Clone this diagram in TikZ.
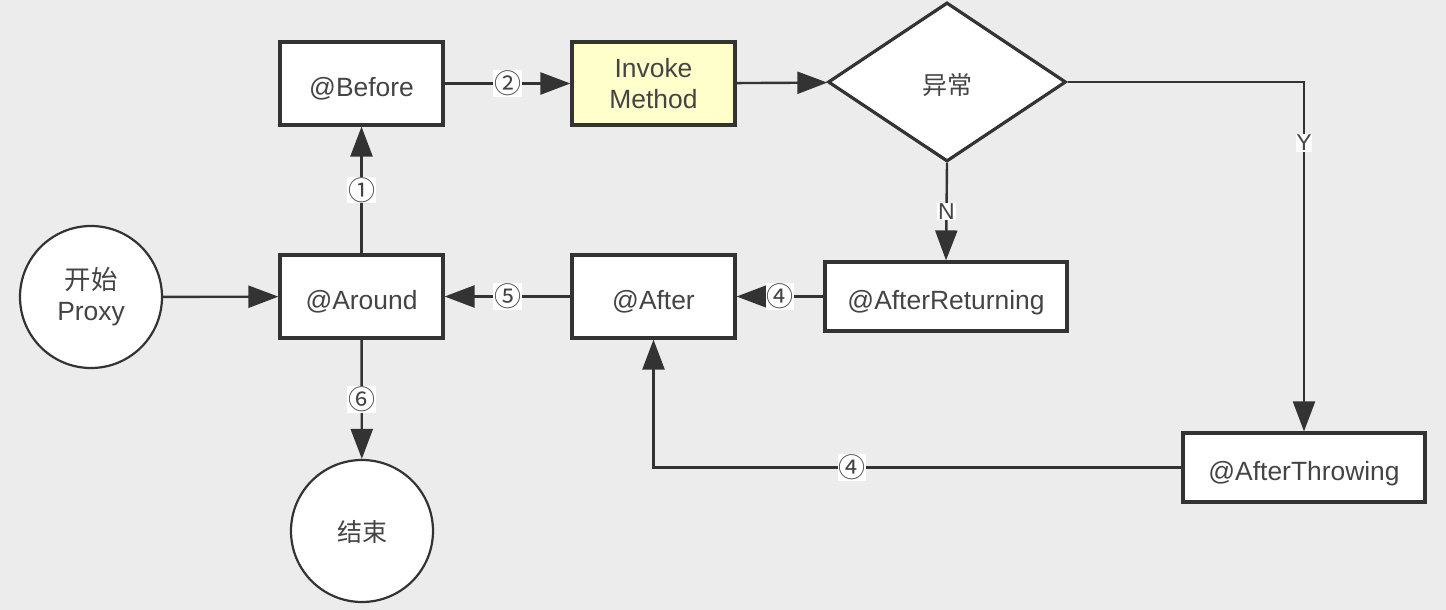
\documentclass[tikz,border=0pt]{standalone}
\usepackage{fontspec}
\setmainfont{Liberation Sans}
\newfontfamily\cjk{Noto Sans CJK SC}
\usetikzlibrary{shapes.geometric, arrows.meta, positioning}
\definecolor{canvasgray}{RGB}{236, 236, 236}
\definecolor{inkgray}{RGB}{51, 51, 51}
\definecolor{textgray}{RGB}{68, 68, 68}
\definecolor{invokeyellow}{RGB}{255, 255, 204}

\begin{document}
\begin{tikzpicture}[x=0.5pt, y=-0.5pt,
    box/.style={rectangle, draw=inkgray, fill=white, line width=1.6pt,
      minimum width=81.5pt, minimum height=41.5pt, inner sep=0pt,
      text=textgray, font=\fontsize{13.2}{15.5}\selectfont, align=center},
    oneline/.style={text height=13.2pt, text depth=0.5pt},
    widebox/.style={box, oneline, minimum width=121pt, minimum height=34.5pt},
    decision/.style={diamond, draw=inkgray, fill=white, line width=1.6pt,
      minimum width=119pt, minimum height=79.5pt, inner sep=0pt, aspect=1.5,
      text=textgray, font=\cjk\fontsize{12.5}{15}\selectfont,
      text height=13pt, text depth=0.5pt},
    terminal/.style={circle, draw=inkgray, fill=white, line width=1.1pt,
      minimum size=71pt, inner sep=0pt, text=textgray,
      font=\fontsize{13.2}{15.5}\selectfont, align=center},
    flow/.style={draw=inkgray, line width=1.2pt,
      -{Triangle[length=15pt, width=11pt]}},
    lbl/.style={fill=white, inner sep=0.4pt, text=textgray,
      font=\cjk\fontsize{13.5}{14}\selectfont},
    letter/.style={lbl, font=\fontsize{11.5}{13}\selectfont}]

  % canvas
  \fill[canvasgray] (0,0) rectangle (1446,610);
  \useasboundingbox (0,0) rectangle (1446,610);

  % ===== nodes =====
  \node[terminal] (start) at (91, 297) {{\cjk 开始}\\Proxy};
  \node[box, oneline] (around) at (361.5, 296.5) {@Around};
  \node[box, oneline] (before) at (361.5, 83.5) {@Before};
  \node[box, fill=invokeyellow] (invoke) at (653.5, 83.5) {Invoke\\Method};
  \node[decision] (except) at (947, 82) {异常};
  \node[widebox] (returning) at (946, 296.5) {@AfterReturning};
  \node[box, oneline] (after) at (653.5, 296.5) {@After};
  \node[widebox] (throwing) at (1304, 467.5) {@AfterThrowing};
  \node[terminal, font=\cjk\fontsize{12.5}{15}\selectfont,
        text height=11pt, text depth=0.5pt] (finish) at (362, 531) {结束};

  % ===== connectors =====
  \draw[flow] (start) -- (around);
  \draw[flow] (around) -- node[lbl] {①} (before);
  \draw[flow] (before) -- node[lbl] {②} (invoke);
  \draw[flow] (invoke) -- (except);
  \draw[flow] (except.east) -| node[letter, pos=0.587] {Y} (throwing.north);
  \draw[flow] (except.south) -- node[letter] {N} (returning.north);
  \draw[flow] (returning) -- node[lbl] {④} (after);
  \draw[flow] (throwing.west) -| node[lbl, pos=0.312] {④} (after.south);
  \draw[flow] (after) -- node[lbl] {⑤} (around);
  \draw[flow] (around) -- node[lbl] {⑥} (finish);

\end{tikzpicture}
\end{document}
